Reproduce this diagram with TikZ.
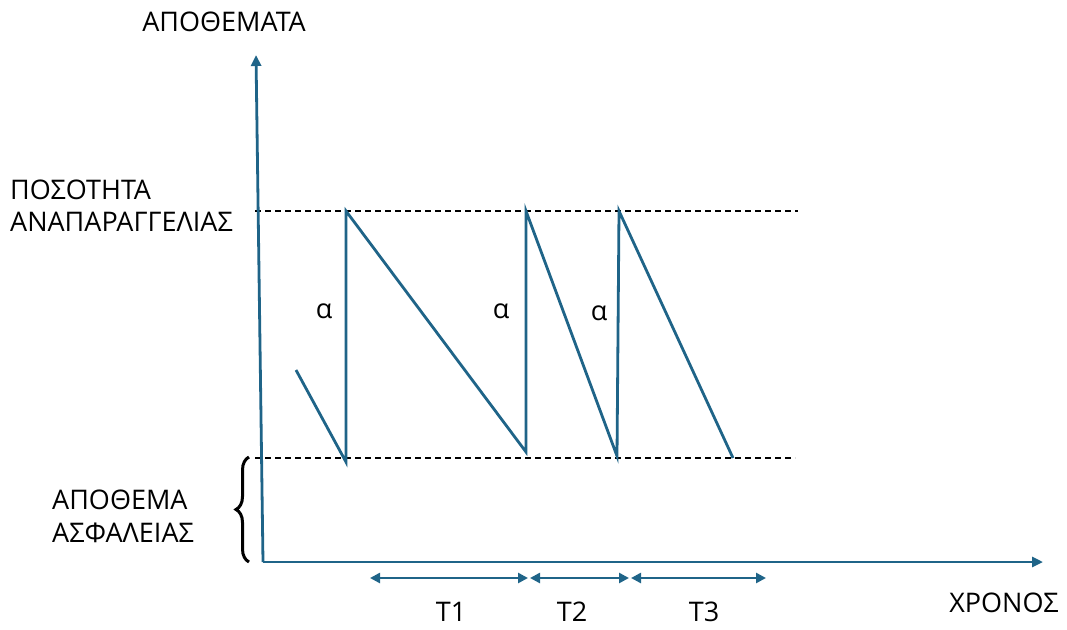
\documentclass[tikz,border=0pt]{standalone}
\usepackage{fontspec}
\setmainfont{Open Sans}
\usetikzlibrary{arrows.meta,decorations.pathreplacing}
\definecolor{lineblue}{RGB}{31,100,136}
\begin{document}
\begin{tikzpicture}[x=1pt,y=-1pt,
  blue line/.style={draw=lineblue,line width=2.8pt},
  dash line/.style={draw=black,line width=1.4pt,dash pattern=on 6pt off 4pt},
  lbl/.style={font=\fontsize{27}{32}\selectfont,inner sep=0pt},
  tarrow/.style={draw=lineblue,line width=2.8pt,{Triangle[length=10pt,width=10pt]}-{Triangle[length=10pt,width=10pt]}},
  axisarrow/.style={draw=lineblue,line width=2.8pt,-{Triangle[length=11pt,width=10pt]}}]
\useasboundingbox (0,0) rectangle (1067,629);
% coordinates
\coordinate (O) at (263,562);
\coordinate (Ytop) at (256,55);
\coordinate (Xend) at (1043,562);
\coordinate (topL) at (255,211);
\coordinate (topR) at (798,211);
\coordinate (botL) at (255,458);
\coordinate (botR) at (795,458);
\coordinate (s0) at (296,370);
\coordinate (s1) at (346,462);
\coordinate (s2) at (346,211);
\coordinate (s3) at (526,452);
\coordinate (s4) at (526,211);
\coordinate (s5) at (617,456);
\coordinate (s6) at (619,211);
\coordinate (s7) at (733,458);
\coordinate (ta) at (370,578);
\coordinate (tb) at (528,578);
\coordinate (tc) at (629,578);
\coordinate (td) at (766,578);
\coordinate (bt) at (249,457);
\coordinate (bb) at (249,562);
% dashed lines
\draw[dash line] (topL) -- (topR);
\draw[dash line] (botL) -- (botR);
% axes
\draw[axisarrow] (O) -- (Ytop);
\draw[axisarrow] (O) -- (Xend);
% sawtooth
\draw[blue line,line join=miter] (s0) -- (s1) -- (s2) -- (s3) -- (s4) -- (s5) -- (s6) -- (s7);
% T arrows
\draw[tarrow] (ta) -- (tb);
\draw[tarrow] ([xshift=2pt]tb) -- (tc);
\draw[tarrow] ([xshift=2pt]tc) -- (td);
% brace
\draw[line width=3pt,decorate,decoration={brace,amplitude=13pt,aspect=0.5}] (bb) -- (bt);
% labels
\node[lbl] (ylab) at (224,22) {ΑΠΟΘΕΜΑΤΑ};
\node[lbl,anchor=west] (q1) at (10,190) {ΠΟΣΟΤΗΤΑ};
\node[lbl,anchor=west] (q2) at (10,222) {ΑΝΑΠΑΡΑΓΓΕΛΙΑΣ};
\node[lbl,anchor=west] (ss1) at (52,500) {ΑΠΟΘΕΜΑ};
\node[lbl,anchor=west] (ss2) at (52,533) {ΑΣΦΑΛΕΙΑΣ};
\node[lbl] (xlab) at (1004,603) {ΧΡΟΝΟΣ};
\node[lbl] (a1) at (324,311) {α};
\node[lbl] (a2) at (501,311) {α};
\node[lbl] (a3) at (599,313) {α};
\node[lbl] (t1) at (451,612) {T1};
\node[lbl] (t2) at (572,612) {T2};
\node[lbl] (t3) at (704,612) {T3};
\end{tikzpicture}
\end{document}
